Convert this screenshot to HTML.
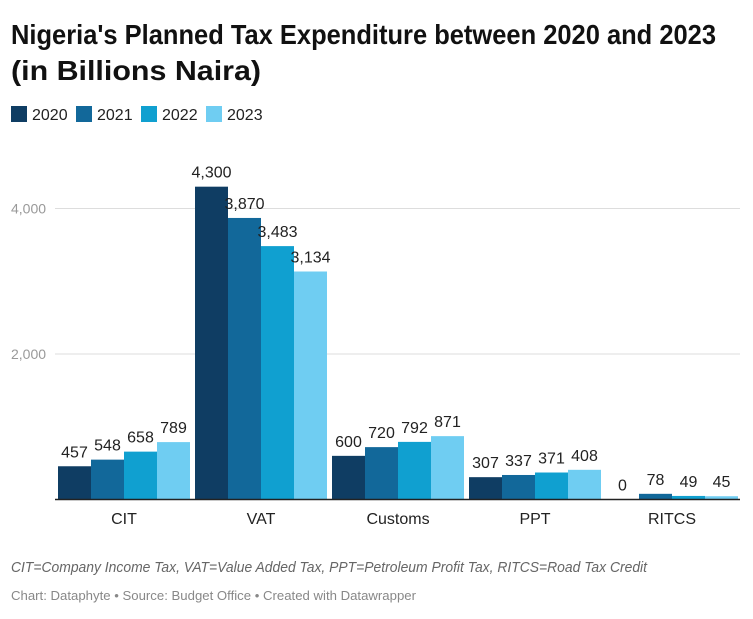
<!DOCTYPE html>
<html><head><meta charset="utf-8"><style>
body{margin:0;background:#fff;}
svg{display:block;font-family:"Liberation Sans",sans-serif;}
</style></head><body>
<svg width="753" height="619" viewBox="0 0 753 619">
<text x="11" y="44" font-size="28" font-weight="bold" fill="#111" textLength="705" lengthAdjust="spacingAndGlyphs">Nigeria's Planned Tax Expenditure between 2020 and 2023</text>
<text x="11" y="80" font-size="28" font-weight="bold" fill="#111" textLength="250" lengthAdjust="spacingAndGlyphs">(in Billions Naira)</text>
<g id="legend"></g>
<g id="grid"></g>
<g id="bars"></g>
<g id="labels"></g>
<g id="cats"></g>
<line x1="55" x2="740" y1="499.5" y2="499.5" stroke="#222" stroke-width="1.5"/>
<text x="11" y="572" font-size="14.5" font-style="italic" fill="#666" textLength="636" lengthAdjust="spacingAndGlyphs">CIT=Company Income Tax, VAT=Value Added Tax, PPT=Petroleum Profit Tax, RITCS=Road Tax Credit</text>
<text x="11" y="600" font-size="13" fill="#888" textLength="405" lengthAdjust="spacingAndGlyphs">Chart: Dataphyte • Source: Budget Office • Created with Datawrapper</text>
</svg>
<script>
const categories=["CIT","VAT","Customs","PPT","RITCS"];
const seriesNames=["2020","2021","2022","2023"];
const v2020=[457,4300,600,307,0];
const v2021=[548,3870,720,337,78];
const v2022=[658,3483,792,371,49];
const v2023=[789,3134,871,408,45];
const yTicks=[2000,4000];
const yTickLabels=["2,000","4,000"];
const series=[v2020,v2021,v2022,v2023];
const colors=["#0f3d63","#12689a","#10a0d0","#6fcdf2"];
const NS="http://www.w3.org/2000/svg";
const y=v=>499.5-v*145.5/2000;
const groupX=i=>58+i*137;
const barW=33;
function mk(tag,attrs,parent){const e=document.createElementNS(NS,tag);for(const k in attrs)e.setAttribute(k,attrs[k]);document.getElementById(parent).appendChild(e);return e;}
yTicks.forEach((t,i)=>{
 const l=mk('line',{x1:55,x2:740,y1:y(t),y2:y(t),stroke:'#ddd','stroke-width':1},'grid');
 
 
 const tx=mk('text',{x:11,y:y(t)+5,'font-size':14,fill:'#999'},'grid');
 tx.textContent=yTickLabels[i];
 
 
});
series.forEach((s,si)=>{
 s.forEach((v,ci)=>{
  const x=groupX(ci)+si*barW;
  const r=mk('rect',{x:x,y:y(v),width:barW,height:499.5-y(v),fill:colors[si]},'bars');
  
  
  const t=mk('text',{x:x+barW/2,y:y(v)-9,'font-size':16,fill:'#222','text-anchor':'middle'},'labels');
  t.textContent=v.toLocaleString('en-US');
  
  
 });
});
categories.forEach((c,ci)=>{
 const t=mk('text',{x:groupX(ci)+2*barW,y:524,'font-size':16,fill:'#222','text-anchor':'middle'},'cats');
 t.textContent=c;
 
 
});
let lx=11;
seriesNames.forEach((n,i)=>{
 const r=mk('rect',{x:lx,y:106,width:16,height:16,fill:colors[i]},'legend');
 
 
 const t=mk('text',{x:lx+21,y:120,'font-size':16,fill:'#222'},'legend');
 t.textContent=n;
 
 
 lx+=65;
});
</script>
</body></html>
